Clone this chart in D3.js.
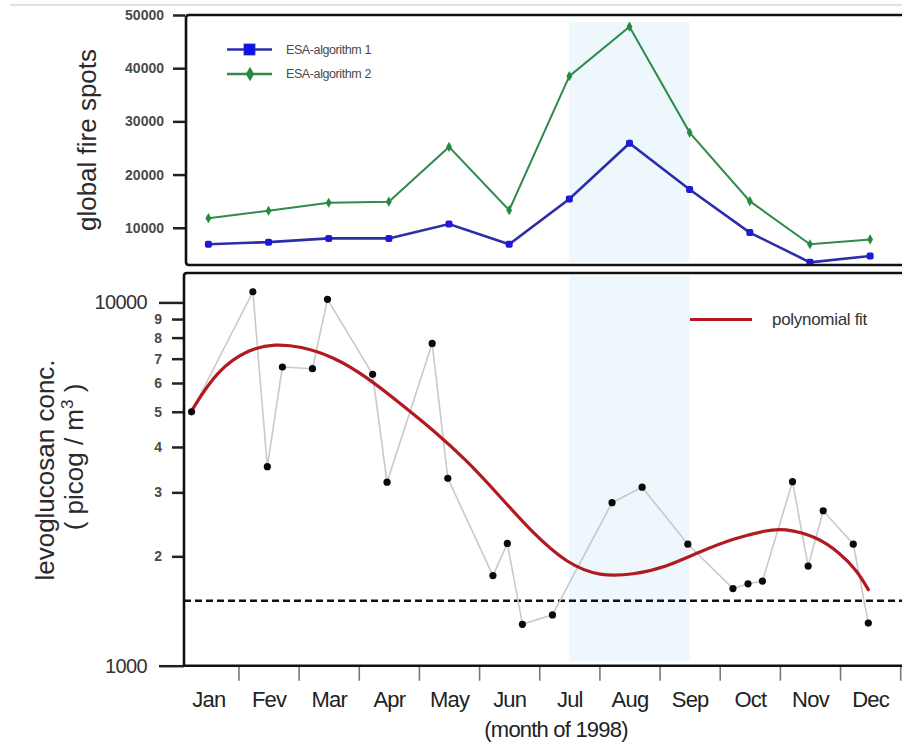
<!DOCTYPE html>
<html>
<head>
<meta charset="utf-8">
<script src="https://cdn.jsdelivr.net/npm/d3@7"></script>
<style>
  html, body { margin: 0; padding: 0; background: #fff; }
  svg { display: block; }
  text { font-family: "Liberation Sans", Arial, sans-serif; }
</style>
</head>
<body>
<svg id="chart" width="902" height="751"></svg>
<script>
// Monthly labels (Portuguese "Fev" kept as published)
const months = ["Jan", "Fev", "Mar", "Apr", "May", "Jun", "Jul", "Aug", "Sep", "Oct", "Nov", "Dec"];

// Global fire spot counts per month, 1998
const fireAlg1 = [6900, 7300, 8000, 8000, 10700, 6900, 15400, 25900, 17200, 9100, 3500, 4700];
const fireAlg2 = [11800, 13200, 14700, 14900, 25200, 13300, 38500, 47800, 27900, 15000, 6900, 7800];
const fireSeriesNames = ["ESA-algorithm 1", "ESA-algorithm 2"];
const fireTicks = [10000, 20000, 30000, 40000, 50000];

// Levoglucosan samples: time in months since 1 Jan 1998, concentration in picog/m3
const sampleMonth = [0.22, 1.24, 1.48, 1.73, 2.23, 2.48, 3.23, 3.47, 4.22, 4.48, 5.23, 5.47, 5.72,
                     6.22, 7.21, 7.71, 8.47, 9.22, 9.47, 9.71, 10.21, 10.47, 10.72, 11.22, 11.47];
const levoValue = [5000, 10700, 3530, 6640, 6570, 10200, 6340, 3200, 7710, 3280, 1770, 2170, 1300,
                   1380, 2810, 3100, 2160, 1630, 1680, 1710, 3210, 1880, 2670, 2160, 1310];

// Polynomial fit through the samples
const fitMonth = [0.22, 0.64, 1.19, 1.61, 2.02, 2.58, 3.13, 3.69, 4.24, 4.79, 5.35, 5.90,
                  6.46, 7.01, 7.56, 8.12, 8.67, 9.23, 9.78, 10.06, 10.61, 11.00, 11.28, 11.47];
const fitValue = [5030, 6510, 7470, 7680, 7580, 7090, 6240, 5270, 4450, 3680, 2920, 2310,
                  1910, 1760, 1780, 1870, 2060, 2240, 2360, 2390, 2270, 2040, 1830, 1620];

const detectionLimit = 1510;
const levoMajorTicks = [1000, 10000];
const levoMinorTicks = [2000, 3000, 4000, 5000, 6000, 7000, 8000, 9000];
const highlightSpan = [6.5, 8.5]; // mid-Jul to mid-Sep

const svg = d3.select("#chart");

// Shared time axis (months)
const x = d3.scaleLinear().domain([0, 12]).range([178.3, 900.2]);

// Panel geometry
const firePanel = { left: 186, top: 15, bottom: 265 };
const levoPanel = { left: 184, top: 273, bottom: 665.7 };

const yFire = d3.scaleLinear().domain([3000, 50000]).range([firePanel.bottom, firePanel.top]);
const yLevo = d3.scaleLog().domain([1000, 12050]).range([levoPanel.bottom, levoPanel.top]);

// faint page rule at the very top
svg.append("line").attr("x1", 10).attr("x2", 902).attr("y1", 5).attr("y2", 5)
  .attr("stroke", "#e2e2e2").attr("stroke-width", 2);

// highlighted season in both panels
svg.append("rect")
  .attr("x", x(highlightSpan[0])).attr("width", x(highlightSpan[1]) - x(highlightSpan[0]))
  .attr("y", firePanel.top + 7).attr("height", firePanel.bottom - firePanel.top - 10)
  .attr("fill", "#eef7fc");
svg.append("rect")
  .attr("x", x(highlightSpan[0])).attr("width", x(highlightSpan[1]) - x(highlightSpan[0]))
  .attr("y", levoPanel.top + 3).attr("height", levoPanel.bottom - levoPanel.top - 8)
  .attr("fill", "#eef7fc");

// ---------- top panel: fire spots ----------
const fireAxis = d3.axisLeft(yFire).tickValues(fireTicks).tickSize(12).tickPadding(9)
  .tickFormat(d3.format("d"));
const gFireAxis = svg.append("g").attr("transform", `translate(${firePanel.left - 1},0)`).call(fireAxis);
gFireAxis.select(".domain").remove();
gFireAxis.selectAll("line").attr("stroke", "#222").attr("stroke-width", 2.5);
gFireAxis.selectAll("text").attr("font-size", 14).attr("font-weight", "bold").attr("fill", "#4a4a4a");

const lineFire = d3.line().x((d, i) => x(i + 0.5)).y(d => yFire(d));

svg.append("path").datum(fireAlg2).attr("d", lineFire)
  .attr("fill", "none").attr("stroke", "#2f8a4c").attr("stroke-width", 2);
svg.append("path").datum(fireAlg1).attr("d", lineFire)
  .attr("fill", "none").attr("stroke", "#2d2da8").attr("stroke-width", 2.6);

const diamond = d3.symbol().type(d3.symbolDiamond).size(30);
svg.append("g").selectAll("path").data(fireAlg2).join("path")
  .attr("d", diamond)
  .attr("transform", (d, i) => `translate(${x(i + 0.5)},${yFire(d)})`)
  .attr("fill", "#238a3f");
svg.append("g").selectAll("rect").data(fireAlg1).join("rect")
  .attr("x", (d, i) => x(i + 0.5) - 3.5).attr("y", d => yFire(d) - 3.5)
  .attr("width", 7).attr("height", 7).attr("rx", 2)
  .attr("fill", "#1a1ad8");

// top panel legend
const legendRows = [
  { name: fireSeriesNames[0], y: 49.5, line: "#2d2da8", mark: "square" },
  { name: fireSeriesNames[1], y: 74, line: "#2f8a4c", mark: "diamond" }
];
legendRows.forEach(r => {
  svg.append("line").attr("x1", 227).attr("x2", 272).attr("y1", r.y).attr("y2", r.y)
    .attr("stroke", r.line).attr("stroke-width", 2.6);
  if (r.mark === "square") {
    svg.append("rect").attr("x", 244).attr("y", r.y - 5.5).attr("width", 11).attr("height", 11)
      .attr("fill", "#1010ee").attr("stroke", "#2d2da8").attr("stroke-width", 0.8);
  } else {
    svg.append("path").attr("d", d3.symbol().type(d3.symbolDiamond).size(60))
      .attr("transform", `translate(250,${r.y})`).attr("fill", "#238a3f");
  }
  svg.append("text").attr("x", 286).attr("y", r.y).attr("dy", "0.35em")
    .attr("font-size", 12.5).attr("fill", "#4a4a4a").attr("letter-spacing", -0.4)
    .text(r.name);
});

// top frame
svg.append("path")
  .attr("d", `M940,${firePanel.top} H${firePanel.left + 3} Q${firePanel.left},${firePanel.top} ${firePanel.left},${firePanel.top + 3}
              V${firePanel.bottom - 3} Q${firePanel.left},${firePanel.bottom} ${firePanel.left + 3},${firePanel.bottom} H940`)
  .attr("fill", "none").attr("stroke", "#111").attr("stroke-width", 2.6);

svg.append("text")
  .attr("transform", `translate(96,140) rotate(-90)`)
  .attr("text-anchor", "middle").attr("font-size", 26).attr("fill", "#2a2a2a")
  .text("global fire spots");

// ---------- bottom panel: levoglucosan ----------
// detection threshold
svg.append("line").attr("x1", levoPanel.left).attr("x2", 902)
  .attr("y1", yLevo(detectionLimit)).attr("y2", yLevo(detectionLimit))
  .attr("stroke", "#111").attr("stroke-width", 2.6).attr("stroke-dasharray", "7,4");

const samples = sampleMonth.map((m, i) => ({ m, v: levoValue[i] }));
svg.append("path").datum(samples)
  .attr("d", d3.line().x(d => x(d.m)).y(d => yLevo(d.v)))
  .attr("fill", "none").attr("stroke", "#c9c9c9").attr("stroke-width", 1.6);

// smooth B-spline through the fitted values
const fit = fitMonth.map((m, i) => ({ m, v: fitValue[i] }));
svg.append("path").datum(fit)
  .attr("d", d3.line().x(d => x(d.m)).y(d => yLevo(d.v)).curve(d3.curveBasis))
  .attr("fill", "none").attr("stroke", "#b3191f").attr("stroke-width", 3.2)
  .attr("stroke-linecap", "round");

svg.append("g").selectAll("circle").data(samples).join("circle")
  .attr("cx", d => x(d.m)).attr("cy", d => yLevo(d.v)).attr("r", 3.6)
  .attr("fill", "#0a0a0a");

// legend for the fit
svg.append("line").attr("x1", 690).attr("x2", 752).attr("y1", 319.5).attr("y2", 319.5)
  .attr("stroke", "#b3191f").attr("stroke-width", 3.2);
svg.append("text").attr("x", 772).attr("y", 319.5).attr("dy", "0.32em")
  .attr("font-size", 17).attr("fill", "#333").attr("letter-spacing", -0.3)
  .text("polynomial fit");

// log axis: major and minor ticks
const levoMajor = d3.axisLeft(yLevo).tickValues(levoMajorTicks).tickSize(25).tickPadding(12)
  .tickFormat(d3.format("d"));
const gMajor = svg.append("g").attr("transform", `translate(${levoPanel.left},0)`).call(levoMajor);
gMajor.select(".domain").remove();
gMajor.selectAll("line").attr("stroke", "#222").attr("stroke-width", 2.5);
gMajor.selectAll("text").attr("font-size", 20).attr("fill", "#333").attr("letter-spacing", -0.6);

const levoMinor = d3.axisLeft(yLevo).tickValues(levoMinorTicks).tickSize(12).tickPadding(10)
  .tickFormat(d => String(d / 1000));
const gMinor = svg.append("g").attr("transform", `translate(${levoPanel.left},0)`).call(levoMinor);
gMinor.select(".domain").remove();
gMinor.selectAll("line").attr("stroke", "#222").attr("stroke-width", 2.5);
gMinor.selectAll("text").attr("font-size", 14).attr("font-weight", "bold").attr("fill", "#4a4a4a");

// month boundary ticks and centred month names
const monthTicks = d3.axisBottom(x).tickValues(d3.range(1, 13)).tickSize(15).tickFormat("");
const gMonthTicks = svg.append("g").attr("transform", `translate(0,${levoPanel.bottom})`).call(monthTicks);
gMonthTicks.select(".domain").remove();
gMonthTicks.selectAll("line").attr("stroke", "#777").attr("stroke-width", 1.6);

const monthNames = d3.axisBottom(x).tickValues(d3.range(12).map(i => i + 0.5)).tickSize(0)
  .tickFormat((d, i) => months[i]);
const gMonthNames = svg.append("g").attr("transform", `translate(0,${levoPanel.bottom})`).call(monthNames);
gMonthNames.select(".domain").remove();
gMonthNames.selectAll("text").attr("y", 0).attr("dy", 0).attr("transform", "translate(0,41)")
  .attr("font-size", 22).attr("fill", "#222").attr("letter-spacing", -0.8);

svg.append("text").attr("x", 556).attr("y", 737).attr("text-anchor", "middle")
  .attr("font-size", 22).attr("fill", "#222").attr("letter-spacing", -0.8)
  .text("(month of 1998)");

// bottom frame
svg.append("path")
  .attr("d", `M940,${levoPanel.top} H${levoPanel.left + 3} Q${levoPanel.left},${levoPanel.top} ${levoPanel.left},${levoPanel.top + 3}
              V${levoPanel.bottom} H940`)
  .attr("fill", "none").attr("stroke", "#111").attr("stroke-width", 2.6);

// y title, two lines
const levoTitle = svg.append("g");
levoTitle.append("text")
  .attr("transform", `translate(54,470) rotate(-90)`)
  .attr("text-anchor", "middle").attr("font-size", 26).attr("fill", "#2a2a2a")
  .text("levoglucosan conc.");
const unit = levoTitle.append("text")
  .attr("transform", `translate(83,457) rotate(-90)`)
  .attr("text-anchor", "middle").attr("font-size", 26).attr("fill", "#2a2a2a");
unit.append("tspan").text("( picog / m");
unit.append("tspan").attr("font-size", 17).attr("dy", -10).text("3");
unit.append("tspan").attr("dy", 10).text(" )");
</script>
</body>
</html>
